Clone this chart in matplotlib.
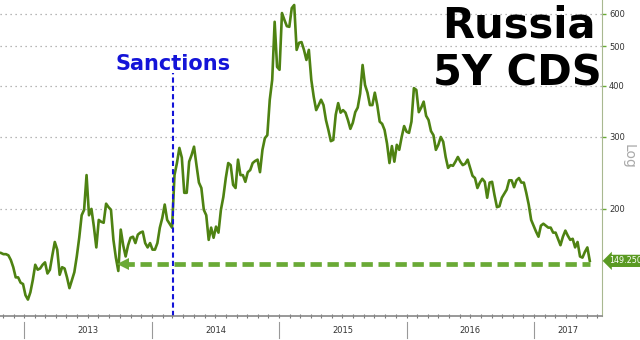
import matplotlib
matplotlib.use('Agg')
import matplotlib.pyplot as plt
import matplotlib.dates as mdates
import matplotlib.transforms as mtransforms
import pandas as pd

# Russia 5Y CDS (bps), weekly values
start_date = '2012-10-26'
cds = [156, 155, 155, 154, 150, 144, 136, 136, 132, 131,
       123, 120, 125, 134, 146, 142, 143, 146, 148, 139,
       142, 154, 166, 159, 138, 144, 143, 136, 128, 134,
       140, 153, 170, 193, 199, 242, 193, 200, 181, 161,
       188, 186, 185, 206, 202, 199, 168, 152, 141, 178,
       163, 153, 163, 170, 171, 165, 173, 175, 176, 165,
       161, 165, 159, 159, 165, 180, 190, 205, 188, 184,
       180, 242, 259, 282, 267, 219, 219, 261, 271, 284,
       256, 232, 225, 199, 193, 168, 180, 170, 181, 175,
       199, 214, 238, 259, 256, 229, 225, 264, 242, 242,
       233, 246, 249, 259, 262, 264, 246, 279, 298, 303,
       370, 414, 574, 445, 438, 603, 580, 560, 558, 620,
       631, 490, 510, 512, 490, 463, 490, 414, 376, 349,
       359, 370, 359, 330, 312, 293, 295, 340, 363, 344,
       349, 344, 330, 314, 325, 345, 354, 383, 450, 402,
       385, 359, 359, 385, 359, 327, 323, 312, 289, 259,
       285, 261, 287, 279, 300, 319, 309, 307, 327, 395,
       391, 345, 354, 366, 338, 330, 310, 303, 279, 287,
       300, 292, 268, 252, 256, 255, 261, 268, 261, 256,
       258, 264, 252, 241, 238, 225, 232, 237, 233, 213,
       232, 233, 216, 202, 203, 213, 218, 223, 235, 235,
       226, 235, 238, 232, 232, 219, 205, 188, 182, 176,
       171, 182, 184, 182, 180, 180, 175, 175, 169, 163,
       171, 177, 172, 168, 169, 161, 166, 153, 152, 157,
       161, 149.25]
last_value = 149.25
support_level = 147
support_start = '2013-10-10'
sanctions_date = '2014-03-04'
years = [2013, 2014, 2015, 2016, 2017]
y_ticks = [200, 300, 400, 500, 600]

dates = pd.date_range(start_date, periods=len(cds), freq='7D')

line_green = '#4e8212'
light_green = '#6aaa36'

fig = plt.figure(figsize=(6.4, 3.4), dpi=100)
ax = fig.add_axes([0, 24 / 340, 602 / 640, 316 / 340])

ax.set_yscale('log')
ax.set_ylim(109.4, 649)
ax.set_xlim(pd.Timestamp('2012-10-23'), pd.Timestamp('2017-07-14'))

# grid
ax.yaxis.set_major_locator(matplotlib.ticker.FixedLocator(y_ticks))
ax.yaxis.set_minor_locator(matplotlib.ticker.NullLocator())
ax.yaxis.set_major_formatter(matplotlib.ticker.FormatStrFormatter('%d'))
ax.xaxis.set_major_locator(mdates.MonthLocator())
ax.xaxis.set_minor_locator(mdates.MonthLocator(bymonth=(1, 4, 7, 10)))
ax.xaxis.set_major_formatter(matplotlib.ticker.NullFormatter())
ax.grid(which='major', axis='y', color='#a0a0a0', lw=0.9, ls=(0, (1, 3)))
ax.grid(which='minor', axis='x', color='#a0a0a0', lw=0.9, ls=(0, (1, 3)))
ax.set_axisbelow(True)

# axes styling
ax.yaxis.tick_right()
ax.tick_params(axis='y', which='major', length=3, width=1, color=light_green,
               labelsize=6, labelcolor='#333333', pad=2)
ax.tick_params(axis='x', which='major', length=3, width=0.8, color='#777777',
               direction='inout')
ax.tick_params(axis='x', which='minor', length=0)
for side in ['left', 'top']:
    ax.spines[side].set_visible(False)
ax.spines['right'].set_color('#a8b890')
ax.spines['right'].set_linewidth(0.8)
ax.spines['bottom'].set_color('#888888')
ax.spines['bottom'].set_linewidth(1.2)

# the series
ax.plot(dates, cds, color=line_green, lw=1.9, solid_joinstyle='round')

# support line with arrow head
ax.plot([pd.Timestamp(support_start), dates[-1]], [support_level, support_level],
        color=light_green, lw=3.4, ls=(0, (2.4, 1.2)), dash_capstyle='butt')
ax.plot([pd.Timestamp(support_start)], [support_level], marker='<',
        markersize=9, color=light_green, markeredgewidth=0)

# sanctions marker
ax.axvline(pd.Timestamp(sanctions_date), ymin=0, ymax=0.77, color='#1414d8',
           lw=1.5, ls=(0, (2.5, 1.5)))
ax.text(pd.Timestamp(sanctions_date), 437, 'Sanctions', color='#1414d8',
        fontsize=15, fontweight='bold', ha='center', va='baseline')

# last value tag
trans = mtransforms.blended_transform_factory(ax.transAxes, ax.transData)
ax.text(1.012, last_value, '%.3f' % last_value, transform=trans, ha='left',
        va='center', fontsize=5.8, color='white', clip_on=False,
        bbox=dict(boxstyle='larrow,pad=0.2', fc='#5a9a22', ec='none'))

# "Log" label
fig.text(0.982, 0.54, 'Log', rotation=270, color='#aaaaaa', fontsize=10,
         ha='center', va='center')

# year labels and separators
xtrans = mtransforms.blended_transform_factory(ax.transData, ax.transAxes)
x0, x1 = ax.get_xlim()
for yr in years:
    left = max(mdates.date2num(pd.Timestamp(f'{yr}-01-01')), x0)
    right = min(mdates.date2num(pd.Timestamp(f'{yr + 1}-01-01')), x1)
    ax.plot([left, left], [-0.02, -0.07], transform=xtrans, color='#999999',
            lw=0.8, clip_on=False)
    ax.text((left + right) / 2, -0.047, str(yr), transform=xtrans,
            ha='center', va='center', fontsize=6, color='#333333')

# title
fig.text(0.81, 0.891, 'Russia', fontsize=30, fontweight='bold', ha='center',
         va='baseline', color='black')
fig.text(0.808, 0.75, '5Y CDS', fontsize=30, fontweight='bold', ha='center',
         va='baseline', color='black')

fig.savefig('out.png', dpi=100)
